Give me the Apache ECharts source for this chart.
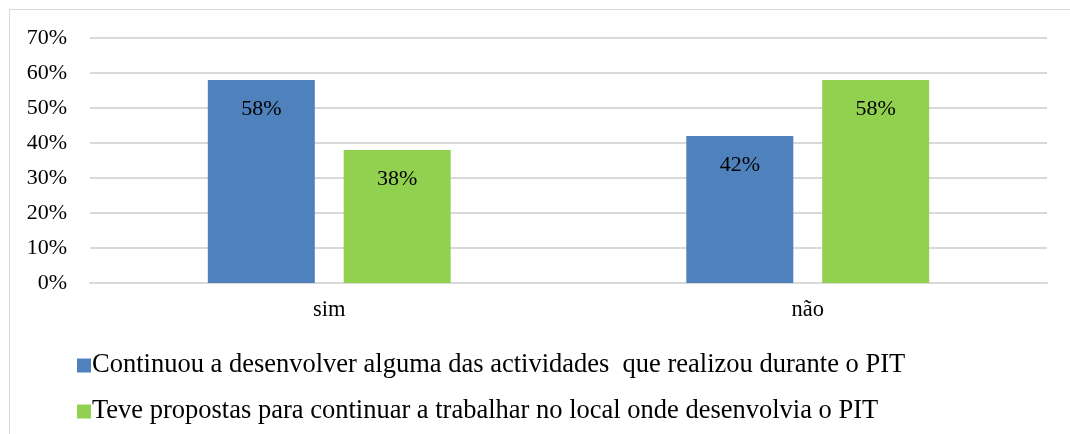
<!DOCTYPE html>
<html><head><meta charset="utf-8">
<script src="https://cdn.jsdelivr.net/npm/echarts@6/dist/echarts.min.js"></script>
<style>html,body{margin:0;padding:0;background:#fff}#c{width:1070px;height:434px}</style>
</head><body><div id="c"></div>
<script>
const categories = ['sim', 'não'];
const seriesNames = [
  'Continuou a desenvolver alguma das actividades  que realizou durante o PIT',
  'Teve propostas para continuar a trabalhar no local onde desenvolvia o PIT'
];
const continuou = [58, 42];
const teve = [38, 58];
const yTicks = [0, 10, 20, 30, 40, 50, 60, 70];

const font = '"Liberation Serif", "Times New Roman", serif';
const chart = echarts.init(document.getElementById('c'));
chart.setOption({
  animation: false,
  textStyle: { fontFamily: font },
  graphic: [{
    type: 'rect', shape: { x: 9.5, y: 9.5, width: 1100, height: 500 },
    style: { fill: 'none', stroke: '#d9d9d9', lineWidth: 1 }, silent: true, z: -1
  }],
  grid: { left: 90, right: 23, top: 38, bottom: 151, containLabel: false },
  legend: {
    orient: 'vertical', left: 72, top: 347, itemWidth: 14, itemHeight: 14,
    itemGap: 19, icon: 'rect',
    textStyle: { fontFamily: font, fontSize: 26.5, color: '#000', padding: [0, 0, 0, -4] },
    data: seriesNames
  },
  xAxis: {
    type: 'category', data: categories,
    axisLine: { lineStyle: { color: '#d9d9d9', width: 2 } },
    axisTick: { show: false },
    axisLabel: { fontFamily: font, fontSize: 22.5, color: '#000', margin: 16 }
  },
  yAxis: {
    type: 'value', min: yTicks[0], max: yTicks[yTicks.length - 1], interval: 10,
    axisLine: { show: false }, axisTick: { show: false },
    splitLine: { lineStyle: { color: '#d9d9d9', width: 2 } },
    axisLabel: { fontFamily: font, fontSize: 22, color: '#000', margin: 23, formatter: v => v + '%' }
  },
  series: [
    {
      name: seriesNames[0], type: 'bar', data: continuou, barWidth: 107, barGap: '27%',
      itemStyle: { color: '#4F81BD' },
      label: { show: true, position: 'insideTop', distance: 18, formatter: p => p.value + '%',
        fontFamily: font, fontSize: 22, color: '#000' }
    },
    {
      name: seriesNames[1], type: 'bar', data: teve, barWidth: 107,
      itemStyle: { color: '#92D050' },
      label: { show: true, position: 'insideTop', distance: 18, formatter: p => p.value + '%',
        fontFamily: font, fontSize: 22, color: '#000' }
    }
  ]
});
</script></body></html>
